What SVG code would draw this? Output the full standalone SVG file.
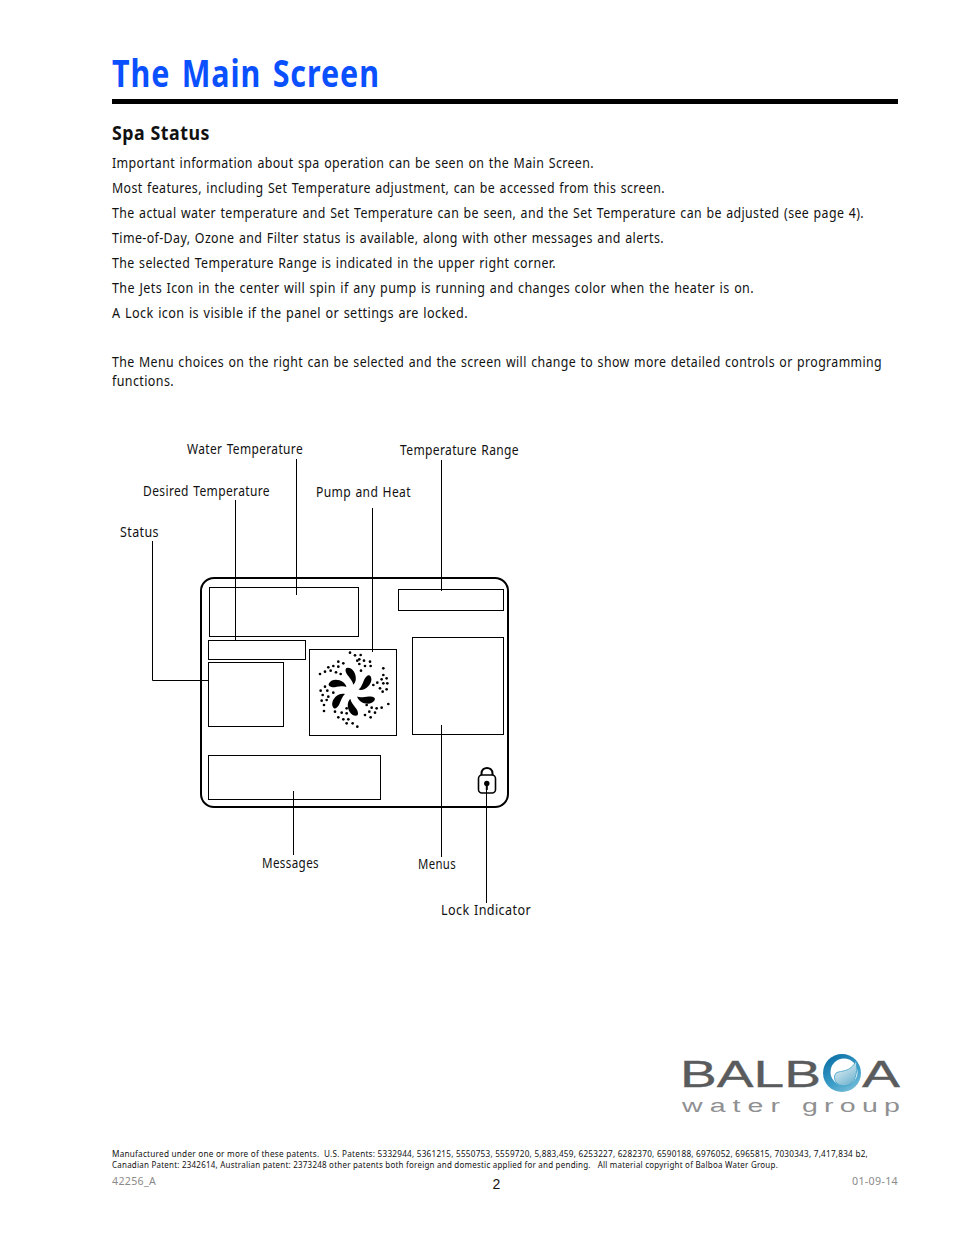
<svg xmlns="http://www.w3.org/2000/svg" width="954" height="1235" viewBox="0 0 954 1235">
<style>
text{font-family:"Noto Sans","Liberation Sans",sans-serif;fill:#111;white-space:pre}
.b,.l{font-size:14.5px;letter-spacing:.45px;word-spacing:1px}
.f{font-size:8.6px;letter-spacing:.25px}
.g{font-size:10.5px;fill:#8a8a8a;letter-spacing:.3px}
.box{fill:#fff;stroke:#000;stroke-width:1}
.c{fill:none;stroke:#000;stroke-width:1}
.d{fill:#000}
.w{font-family:"Liberation Sans",sans-serif;font-size:37px;fill:#5a5b5d;stroke:#5a5b5d;stroke-width:.3px}
.w2{font-family:"Liberation Sans",sans-serif;font-size:19px;fill:#8f9091}
</style>
<defs>
<path id="blade" d="M-4-24C1-24 4.500-18 4-12.500C3.800-10.500 3-8.500 1.500-7C1-10.500-2-13.500-4.500-17C-6.800-20.500-7-24-4-24Z"/>
<linearGradient id="orb" x1=".2" y1="0" x2=".8" y2="1"><stop offset="0" stop-color="#0b6fa6"/><stop offset=".6" stop-color="#3c9ec8"/><stop offset="1" stop-color="#7cc0da"/></linearGradient>
<linearGradient id="orb2" x1=".2" y1="0" x2=".8" y2="1"><stop offset="0" stop-color="#eef7fa"/><stop offset="1" stop-color="#69b0cd"/></linearGradient>
</defs>
<rect width="954" height="1235" fill="#fff"/>
<g id="header">
<text x="112" y="87" textLength="268" lengthAdjust="spacingAndGlyphs" style="font-size:38px;font-weight:700;fill:#0a50ff;letter-spacing:1.2px;word-spacing:3px">The Main Screen</text>
<rect x="112" y="99" width="786" height="5" fill="#000"/>
<text x="112" y="140" textLength="98" lengthAdjust="spacingAndGlyphs" style="font-size:20px;font-weight:700;letter-spacing:.6px">Spa Status</text>
</g>
<g id="body">
<text class="b" x="112" y="168" textLength="482" lengthAdjust="spacingAndGlyphs">Important information about spa operation can be seen on the Main Screen.</text>
<text class="b" x="112" y="193" textLength="553" lengthAdjust="spacingAndGlyphs">Most features, including Set Temperature adjustment, can be accessed from this screen.</text>
<text class="b" transform="translate(112 218) scale(.82 1)" textLength="917" lengthAdjust="spacingAndGlyphs">The actual water temperature and Set Temperature can be seen, and the Set Temperature can be adjusted (see page 4).</text>
<text class="b" x="112" y="243" textLength="552" lengthAdjust="spacingAndGlyphs">Time-of-Day, Ozone and Filter status is available, along with other messages and alerts.</text>
<text class="b" x="112" y="268" textLength="444" lengthAdjust="spacingAndGlyphs">The selected Temperature Range is indicated in the upper right corner.</text>
<text class="b" x="112" y="293" textLength="642" lengthAdjust="spacingAndGlyphs">The Jets Icon in the center will spin if any pump is running and changes color when the heater is on.</text>
<text class="b" x="112" y="318" textLength="356" lengthAdjust="spacingAndGlyphs">A Lock icon is visible if the panel or settings are locked.</text>
<text class="b" transform="translate(112 367) scale(.82 1)" textLength="939" lengthAdjust="spacingAndGlyphs">The Menu choices on the right can be selected and the screen will change to show more detailed controls or programming</text>
<text class="b" x="112" y="386" textLength="62" lengthAdjust="spacingAndGlyphs">functions.</text>
</g>
<g id="screen"><rect x="201" y="578" width="307" height="229" rx="13" fill="#fff" stroke="#000" stroke-width="2"/></g>
<g id="water-box"><rect class="box" x="209.500" y="587.500" width="149" height="49"/></g>
<g id="range-box"><rect class="box" x="398.500" y="589.500" width="105" height="21"/></g>
<g id="desired-box"><rect class="box" x="208.500" y="640.500" width="97" height="19"/></g>
<g id="status-box"><rect class="box" x="208.500" y="662.500" width="75" height="64"/></g>
<g id="menus-box"><rect class="box" x="412.500" y="637.500" width="91" height="97"/></g>
<g id="messages-box"><rect class="box" x="208.500" y="755.500" width="172" height="44"/></g>
<g id="jets">
<rect class="box" x="309.500" y="649.500" width="87" height="86"/>
<g transform="translate(351.800 691.800)" class="d">
<use href="#blade"/><use href="#blade" transform="rotate(60)"/><use href="#blade" transform="rotate(120)"/><use href="#blade" transform="rotate(180)"/><use href="#blade" transform="rotate(240)"/><use href="#blade" transform="rotate(300)"/>
</g>
<g transform="translate(300 640) scale(.3333)" class="d">
<circle cx="150" cy="38" r="4"/><circle cx="165" cy="46" r="4"/><circle cx="182" cy="45" r="4"/><circle cx="178" cy="58" r="4"/><circle cx="192" cy="62" r="4"/><circle cx="172" cy="62" r="4"/><circle cx="210" cy="65" r="4"/><circle cx="178" cy="72" r="4"/><circle cx="195" cy="78" r="4"/><circle cx="212" cy="78" r="4"/><circle cx="183" cy="92" r="4"/>
<circle cx="115" cy="65" r="4"/><circle cx="130" cy="70" r="4"/><circle cx="100" cy="78" r="4"/><circle cx="115" cy="80" r="4"/><circle cx="85" cy="82" r="4"/><circle cx="75" cy="95" r="4"/><circle cx="92" cy="92" r="4"/><circle cx="108" cy="97" r="4"/><circle cx="60" cy="102" r="4"/><circle cx="122" cy="102" r="4"/>
<circle cx="250" cy="85" r="4"/><circle cx="250" cy="105" r="4"/><circle cx="260" cy="115" r="4"/><circle cx="245" cy="118" r="4"/><circle cx="232" cy="128" r="4"/><circle cx="250" cy="130" r="4"/><circle cx="262" cy="130" r="4"/><circle cx="220" cy="135" r="4"/><circle cx="240" cy="145" r="4"/><circle cx="260" cy="148" r="4"/><circle cx="248" cy="155" r="4"/>
<circle cx="265" cy="192" r="4"/><circle cx="245" cy="203" r="4"/><circle cx="230" cy="205" r="4"/><circle cx="215" cy="203" r="4"/><circle cx="200" cy="195" r="4"/><circle cx="225" cy="218" r="4"/><circle cx="208" cy="215" r="4"/><circle cx="195" cy="225" r="4"/><circle cx="212" cy="232" r="4"/>
<circle cx="105" cy="215" r="4"/><circle cx="125" cy="218" r="4"/><circle cx="140" cy="205" r="4"/><circle cx="140" cy="220" r="4"/><circle cx="115" cy="232" r="4"/><circle cx="130" cy="238" r="4"/><circle cx="145" cy="238" r="4"/><circle cx="140" cy="250" r="4"/><circle cx="158" cy="250" r="4"/><circle cx="172" cy="260" r="4"/>
<circle cx="75" cy="140" r="4"/><circle cx="62" cy="152" r="4"/><circle cx="82" cy="152" r="4"/><circle cx="68" cy="165" r="4"/><circle cx="85" cy="170" r="4"/><circle cx="100" cy="158" r="4"/><circle cx="65" cy="182" r="4"/><circle cx="80" cy="180" r="4"/><circle cx="72" cy="195" r="4"/><circle cx="72" cy="213" r="4"/>
</g>
</g>
<g id="lock">
<path d="M481.500 775V773.500C481.500 766 492.500 766 492.500 773.500V775" fill="none" stroke="#000" stroke-width="2"/>
<rect x="478.500" y="775" width="17" height="18" rx="3.500" fill="#fff" stroke="#000" stroke-width="1.600"/>
<circle cx="486.800" cy="783.500" r="2.700" class="d"/><rect x="485.800" y="784" width="2" height="6" class="d"/>
</g>
<g id="connectors">
<path class="c" d="M296.500 459V595"/>
<path class="c" d="M235.500 500V640"/>
<path class="c" d="M152.500 541V680.500H208"/>
<path class="c" d="M372.500 508V652"/>
<path class="c" d="M441.500 460V591"/>
<path class="c" d="M293.500 791V855"/>
<path class="c" d="M441.500 725V857"/>
<path class="c" d="M486.500 790V903"/>
</g>
<g id="labels">
<text class="l" x="187" y="454" textLength="116" lengthAdjust="spacingAndGlyphs">Water Temperature</text>
<text class="l" x="400" y="455" textLength="119" lengthAdjust="spacingAndGlyphs">Temperature Range</text>
<text class="l" x="143" y="496" textLength="127" lengthAdjust="spacingAndGlyphs">Desired Temperature</text>
<text class="l" x="316" y="497" textLength="95" lengthAdjust="spacingAndGlyphs">Pump and Heat</text>
<text class="l" x="120" y="537" textLength="39" lengthAdjust="spacingAndGlyphs">Status</text>
<text class="l" x="262" y="868" textLength="57" lengthAdjust="spacingAndGlyphs">Messages</text>
<text class="l" x="418" y="869" textLength="38" lengthAdjust="spacingAndGlyphs">Menus</text>
<text class="l" x="441" y="915" textLength="90" lengthAdjust="spacingAndGlyphs">Lock Indicator</text>
</g>
<g id="logo">
<text class="w" x="680" y="1087" textLength="141" lengthAdjust="spacingAndGlyphs">BALB</text>
<text class="w" x="862" y="1087" textLength="38" lengthAdjust="spacingAndGlyphs">A</text>
<circle cx="842" cy="1073" r="19" fill="url(#orb)"/>
<circle cx="844" cy="1072" r="13.500" fill="#fff"/>
<path d="M856 1061C858 1072 856 1085 845 1086C836 1086 832 1078 836 1073C841 1070 850 1073 856 1061Z" fill="url(#orb2)" stroke="#3c9ec8" stroke-width=".8"/>
<text class="w2" transform="translate(682 1112) scale(1.5 1)" textLength="65.300" lengthAdjust="spacing">water</text>
<text class="w2" transform="translate(802 1112) scale(1.5 1)" textLength="65.300" lengthAdjust="spacing">group</text>
</g>
<g id="footer">
<text class="f" x="112" y="1156.500" textLength="756" lengthAdjust="spacingAndGlyphs">Manufactured under one or more of these patents.  U.S. Patents: 5332944, 5361215, 5550753, 5559720, 5,883,459, 6253227, 6282370, 6590188, 6976052, 6965815, 7030343, 7,417,834 b2,</text>
<text class="f" x="112" y="1167.500" textLength="666" lengthAdjust="spacingAndGlyphs">Canadian Patent: 2342614, Australian patent: 2373248 other patents both foreign and domestic applied for and pending.   All material copyright of Balboa Water Group.</text>
<text class="g" x="112" y="1185" textLength="44" lengthAdjust="spacingAndGlyphs">42256_A</text>
<text x="492.500" y="1189" style="font-family:'Liberation Sans',sans-serif;font-size:14px">2</text>
<text class="g" x="852" y="1185" textLength="46" lengthAdjust="spacingAndGlyphs">01-09-14</text>
</g>
</svg>
